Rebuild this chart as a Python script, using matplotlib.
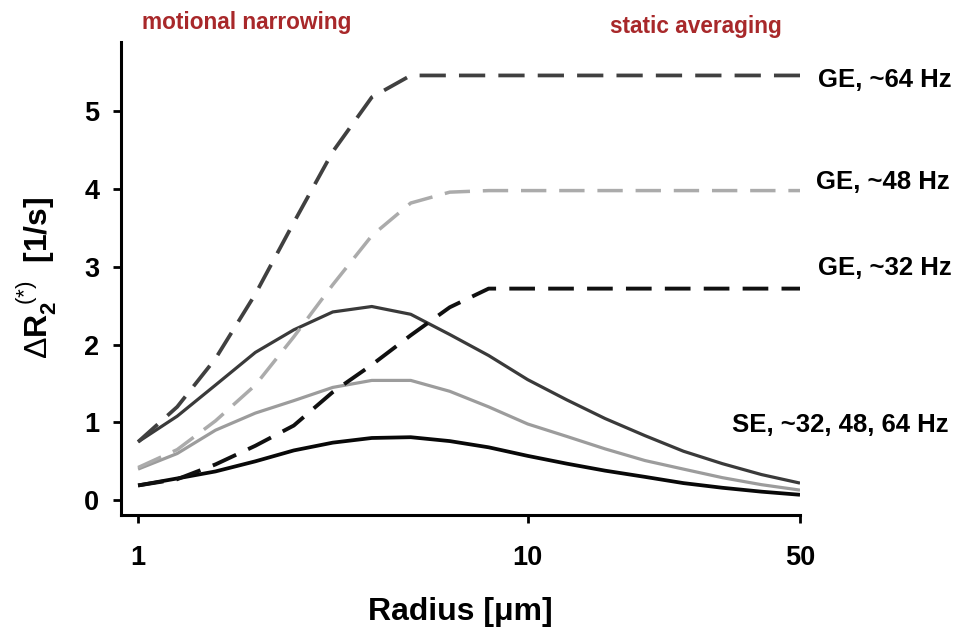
import matplotlib
matplotlib.use("Agg")
import matplotlib.pyplot as plt
import numpy as np

plt.rcParams['font.family'] = ['Liberation Sans', 'DejaVu Sans']
plt.rcParams['mathtext.fontset'] = 'custom'
plt.rcParams['mathtext.rm'] = 'Liberation Sans'
plt.rcParams['mathtext.bf'] = 'Liberation Sans:bold'
plt.rcParams['mathtext.it'] = 'Liberation Sans:italic'

# vessel radius grid [um], ten points per decade
radius = [1.0, 1.26, 1.58, 2.0, 2.51, 3.16, 3.98, 5.01, 6.31, 7.94,
          10.0, 12.6, 15.8, 20.0, 25.1, 31.6, 39.8, 50.0]

# gradient echo relaxation rate change [1/s]
ge_64 = [0.75, 1.20, 1.82, 2.65, 3.57, 4.48, 5.18, 5.46, 5.46, 5.46,
         5.46, 5.46, 5.46, 5.46, 5.46, 5.46, 5.46, 5.46]
ge_48 = [0.42, 0.65, 1.02, 1.48, 2.10, 2.77, 3.40, 3.82, 3.96, 3.98,
         3.98, 3.98, 3.98, 3.98, 3.98, 3.98, 3.98, 3.98]
ge_32 = [0.19, 0.27, 0.46, 0.70, 0.96, 1.39, 1.74, 2.12, 2.48, 2.72,
         2.72, 2.72, 2.72, 2.72, 2.72, 2.72, 2.72, 2.72]

# spin echo relaxation rate change [1/s]
se_64 = [0.75, 1.08, 1.48, 1.90, 2.19, 2.42, 2.49, 2.39, 2.13, 1.86,
         1.55, 1.29, 1.05, 0.83, 0.63, 0.47, 0.33, 0.22]
se_48 = [0.40, 0.60, 0.90, 1.12, 1.28, 1.45, 1.54, 1.54, 1.40, 1.20,
         0.98, 0.82, 0.66, 0.51, 0.40, 0.29, 0.20, 0.13]
se_32 = [0.19, 0.28, 0.37, 0.50, 0.64, 0.74, 0.80, 0.81, 0.76, 0.68,
         0.57, 0.47, 0.38, 0.30, 0.22, 0.16, 0.11, 0.07]

x_ticks = [1, 10, 50]
y_ticks = [0, 1, 2, 3, 4, 5]

W, H = 962, 633
fig = plt.figure(figsize=(W / 100, H / 100), dpi=100)
ax = fig.add_axes([121 / W, (H - 515) / H, (800 - 121) / W, (515 - 42) / H])

ax.plot(radius, se_64, color='#3a3a3a', lw=2.3, solid_capstyle='butt')
ax.plot(radius, se_48, color='#9c9c9c', lw=2.3, solid_capstyle='butt')
ax.plot(radius, se_32, color='#080808', lw=2.7, solid_capstyle='butt')
ax.plot(radius, ge_64, color='#404040', lw=2.7, dashes=(7, 3.5))
ax.plot(radius, ge_48, color='#ababab', lw=2.5, dashes=(7.3, 3.7))
ax.plot(radius, ge_32, color='#101010', lw=2.8, dashes=(6.6, 3.4))

ax.set_xscale('log')
ax.set_xlim(0.904, 50)
ax.set_ylim(-0.19, 5.89)
ax.set_xticks(x_ticks)
ax.set_xticklabels([str(t) for t in x_ticks])
ax.xaxis.set_minor_locator(matplotlib.ticker.NullLocator())
ax.set_yticks(y_ticks)
ax.set_yticklabels([str(t) for t in y_ticks])

for side in ('top', 'right'):
    ax.spines[side].set_visible(False)
for side in ('left', 'bottom'):
    ax.spines[side].set_linewidth(2.2)
    ax.spines[side].set_capstyle('projecting')

ax.tick_params(axis='both', direction='out', length=5.5, width=2.0,
               labelsize=19.5)
ax.tick_params(axis='y', pad=10)
ax.tick_params(axis='x', pad=16)
for lab in ax.get_xticklabels() + ax.get_yticklabels():
    lab.set_fontweight('bold')

# axis titles
fig.text(460 / W, 1 - 612 / H, 'Radius [\u03bcm]', ha='center', va='center',
         fontsize=23, fontweight='bold')
fig.text(37 / W, 1 - 278 / H,
         r'$\Delta\mathbf{R}_{\mathbf{2}}^{\ \,(*)}$  [1/s]',
         rotation=90, ha='center', va='center', fontsize=23,
         fontweight='bold')

# regime annotations
red = '#a8282a'
fig.text(247 / W, 1 - 22 / H, 'motional narrowing', ha='center',
         va='center', fontsize=16.3, fontweight='bold', color=red)
fig.text(696 / W, 1 - 27 / H, 'static averaging', ha='center',
         va='center', fontsize=16.3, fontweight='bold', color=red)

# curve labels
fig.text(818 / W, 1 - 80 / H, 'GE, ~64 Hz', ha='left', va='center',
         fontsize=18.5, fontweight='bold')
fig.text(816 / W, 1 - 182 / H, 'GE, ~48 Hz', ha='left', va='center',
         fontsize=18.5, fontweight='bold')
fig.text(818 / W, 1 - 268 / H, 'GE, ~32 Hz', ha='left', va='center',
         fontsize=18.5, fontweight='bold')
fig.text(732 / W, 1 - 425 / H, 'SE, ~32, 48, 64 Hz', ha='left',
         va='center', fontsize=18.5, fontweight='bold')

fig.savefig('out.png', dpi=100)
